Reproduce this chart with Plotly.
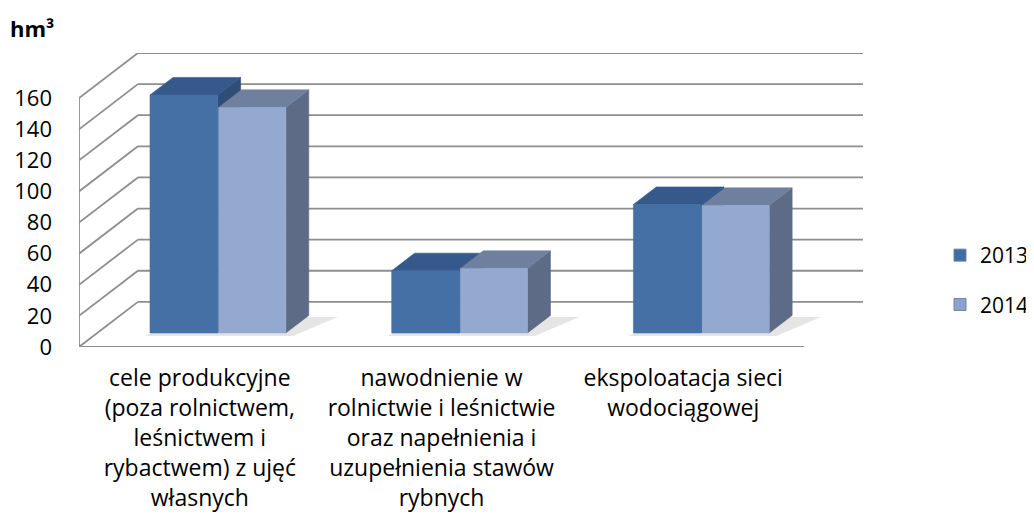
import plotly.graph_objects as go

# ---------------- data ----------------
categories = [
    "cele produkcyjne<br>(poza rolnictwem,<br>leśnictwem i<br>rybactwem) z ujęć<br>własnych",
    "nawodnienie w<br>rolnictwie i leśnictwie<br>oraz napełnienia i<br>uzupełnienia stawów<br>rybnych",
    "ekspoloatacja sieci<br>wodociągowej",
]
series_names = ["2013", "2014"]
values_2013 = [153, 40, 82.6]
values_2014 = [145, 41.5, 82]
y_ticks = [0, 20, 40, 60, 80, 100, 120, 140, 160]
y_title = "hm³"

# ---------------- styling / geometry ----------------
FONT = "Open Sans"
X_DEPTH = 0.2438   # oblique depth offset of back wall (x units)
Y_DEPTH = 29.03    # oblique depth offset of back wall (value units)
D0, D1 = 0.311, 0.70  # bar depth start / end (fraction of full depth)
GRID = "#8E8E8E"
Y_MAX = max(y_ticks)

series = [
    dict(name=series_names[0], vals=values_2013, x0=-0.282, x1=-0.002,
         front="#4470A6", top="#34598A", side="#2E4E78", legend="#3F6CA3"),
    dict(name=series_names[1], vals=values_2014, x0=0.002, x1=0.28,
         front="#94A9D0", top="#6F809F", side="#5D6B86", legend="#8DA2C8"),
]

fig = go.Figure()

# back wall grid lines
gx, gy = [], []
for t in y_ticks:
    gx += [-0.5 + X_DEPTH, len(categories) - 0.5 + X_DEPTH, None]
    gy += [t + Y_DEPTH, t + Y_DEPTH, None]
# left wall diagonals
for t in y_ticks:
    gx += [-0.5, -0.5 + X_DEPTH, None]
    gy += [t, t + Y_DEPTH, None]
# front vertical axis line and floor front edge
gx += [-0.5, -0.5, None, -0.5, len(categories) - 0.5]
gy += [Y_MAX, 0, None, 0, 0]
fig.add_trace(go.Scatter(x=gx, y=gy, mode="lines", line=dict(color=GRID, width=1.8),
                         hoverinfo="skip", showlegend=False))

dx0, dy0 = D0 * X_DEPTH, D0 * Y_DEPTH
dx1, dy1 = D1 * X_DEPTH, D1 * Y_DEPTH

# soft floor shadows
for ci in range(len(categories)):
    xl = ci + series[0]["x0"]
    xr = ci + series[1]["x1"]
    sx = [xl + dx0 - 0.02, xr + dx0 + 0.03, xr + dx1 + 0.12, xl + dx1 + 0.05, xl + dx0 - 0.02]
    sy = [dy0 - 2, dy0 - 2, dy1 - 1, dy1 - 1, dy0 - 2]
    fig.add_trace(go.Scatter(x=sx, y=sy, mode="lines", fill="toself",
                             fillcolor="rgba(0,0,0,0.10)", line=dict(width=0),
                             hoverinfo="skip", showlegend=False))

# 3D bars
for ci in range(len(categories)):
    for s in series:
        v = s["vals"][ci]
        xl, xr = ci + s["x0"], ci + s["x1"]
        side_x = [xr + dx0, xr + dx1, xr + dx1, xr + dx0, xr + dx0]
        side_y = [dy0, dy1, v + dy1, v + dy0, dy0]
        top_x = [xl + dx0, xr + dx0, xr + dx1, xl + dx1, xl + dx0]
        top_y = [v + dy0, v + dy0, v + dy1, v + dy1, v + dy0]
        fr_x = [xl + dx0, xr + dx0, xr + dx0, xl + dx0, xl + dx0]
        fr_y = [dy0, dy0, v + dy0, v + dy0, dy0]
        for px, py, col in ((side_x, side_y, s["side"]), (top_x, top_y, s["top"]),
                            (fr_x, fr_y, s["front"])):
            fig.add_trace(go.Scatter(x=px, y=py, mode="lines", fill="toself",
                                     fillcolor=col, line=dict(width=0.6, color=col),
                                     hoverinfo="skip", showlegend=False))

# legend entries
for i, s in enumerate(series):
    fig.add_trace(go.Scatter(x=[None], y=[None], mode="markers", name=s["name"],
                             legendgroup=s["name"],
                             marker=dict(symbol="square", size=12, color=s["legend"],
                                         line=dict(color="#6A85AE", width=1))))

# page body has an 8px margin, so the figure is laid out 8px up/left of the target
L, T = 71, 45
PW, PH = 784, 294
fig.update_layout(
    width=1026, height=506,
    margin=dict(l=L, r=1026 - L - PW, t=T, b=506 - T - PH, autoexpand=False),
    plot_bgcolor="white", paper_bgcolor="white",
    font=dict(family=FONT, size=22, color="black"),
    xaxis=dict(range=[-0.5, len(categories) - 0.5 + X_DEPTH], showgrid=False,
               zeroline=False, showline=False, tickvals=list(range(len(categories))),
               ticktext=categories, ticks="", tickangle=0, automargin=False,
               ticklabelstandoff=15,
               tickfont=dict(family=FONT, size=23, color="black")),
    yaxis=dict(range=[0, Y_MAX + Y_DEPTH], showgrid=False, zeroline=False,
               showline=False, tickvals=y_ticks, ticks="", ticklabelstandoff=26,
               automargin=False,
               tickfont=dict(family=FONT, size=22, color="black")),
    legend=dict(x=(932 - L) / PW, y=(T + PH - 227) / PH, xanchor="left", yanchor="top",
                font=dict(family=FONT, size=21, color="black"),
                tracegroupgap=19, bgcolor="rgba(0,0,0,0)"),
    showlegend=True,
    annotations=[dict(text="<b>" + y_title + "</b>", xref="paper", yref="paper",
                      x=(0 - L) / PW, y=(T + PH - 20) / PH, xanchor="left", yanchor="middle",
                      showarrow=False, font=dict(family=FONT, size=22, color="black"))],
)

fig.write_html("out.html")
